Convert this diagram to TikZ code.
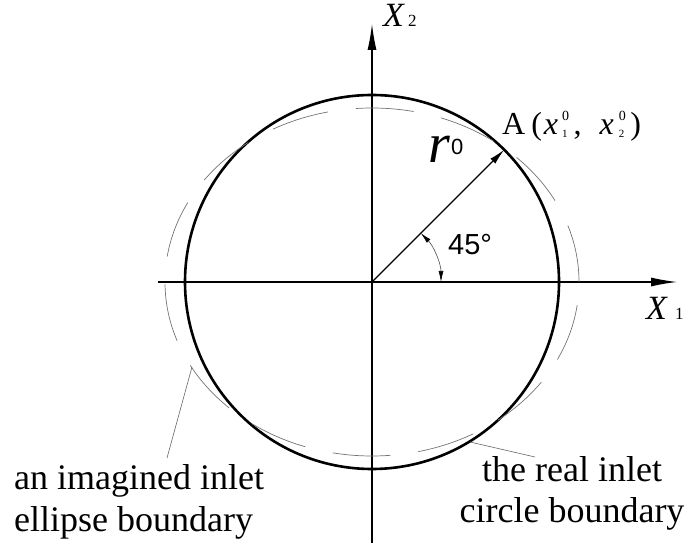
\documentclass[tikz,border=0pt]{standalone}
\usepackage{fontspec}
\setmainfont{Liberation Serif}
\newfontfamily\sansf{Liberation Sans}
\usetikzlibrary{arrows.meta,calc}
\newcommand{\supsubpair}[2]{\makebox[0pt][l]{\raisebox{14pt}{\fontsize{14}{14}\selectfont #1}}\raisebox{-3pt}{\fontsize{11}{11}\selectfont #2}}
\begin{document}
\begin{tikzpicture}[x=1pt,y=1pt,
  axisline/.style={line width=1.2pt,-{Latex[length=26pt,width=9pt]}},
  realcircle/.style={line width=2.6pt},
  imagellipse/.style={line width=0.7pt,black!55,dash pattern=on 58pt off 28pt},
  leader/.style={line width=0.6pt,black!60},
  lab/.style={inner sep=0pt,anchor=base west},
  bigtext/.style={inner sep=0pt,font=\fontsize{36}{42}\selectfont}
]
\useasboundingbox (0,0) rectangle (692,543);
\coordinate (O) at (372,261);
% axes
\coordinate (h0) at (158,261);
\coordinate (h1) at (677,261);
\coordinate (v0) at (372,0);
\coordinate (v1) at (372,519);
\draw[axisline] (h0) -- (h1);
\draw[axisline] (v0) -- (v1);
% real circle and imagined ellipse
\draw[realcircle] (O) circle[radius=187];
\draw[imagellipse] (O) ellipse[x radius=207, y radius=174];
% radius arrow
\coordinate (A) at ($(O)+(132.2,132.2)$);
\draw[line width=1.2pt,-{Latex[length=16pt,width=7pt]}] (O) -- (A);
% 45 degree arc
\draw[line width=0.6pt,black!70,{Latex[length=11pt,width=5pt,black]}-{Latex[length=11pt,width=5pt,black]}] ($(O)+(69,0)$) arc[start angle=0,end angle=45,radius=69];
% labels
\node[lab] (x2lab) at (383,516) {\fontsize{34}{34}\selectfont\textit{X}\hspace{3pt}\fontsize{17}{17}\selectfont 2};
\node[lab] (x1lab) at (646,223) {\fontsize{34}{34}\selectfont\textit{X}\hspace{7pt}\fontsize{17}{17}\selectfont 1};
\node[lab] (rlab) at (428,380) {\fontsize{56}{56}\selectfont\itshape r\hspace{1pt}\raisebox{8pt}{\sansf\upshape\fontsize{22}{22}\selectfont 0}};
\node[lab] (alab) at (502,408) {\fontsize{32}{32}\selectfont A\hspace{6pt}(\hspace{2pt}\textit{x}\hspace{4pt}\supsubpair{0}{1}\hspace{6pt},\hspace{18pt}\textit{x}\hspace{5pt}\supsubpair{0}{2}\hspace{6pt})};
\node[lab] (anglab) at (448,288) {\sansf\fontsize{29}{29}\selectfont 45°};
% bottom texts
\node[bigtext,anchor=base west] (lt1) at (14,54) {an imagined inlet};
\node[bigtext,anchor=base west] (lt2) at (14,12) {ellipse boundary};
\node[bigtext,anchor=base] (rt1) at (572,62) {the real inlet};
\node[bigtext,anchor=base] (rt2) at (572,21) {circle boundary};
% leaders
\coordinate (le0) at (167,85);
\coordinate (le1) at (192,176);
\coordinate (re0) at (470,101);
\coordinate (re1) at (535,86);
\draw[leader] (le0) -- (le1);
\draw[leader] (re0) -- (re1);
\end{tikzpicture}
\end{document}
